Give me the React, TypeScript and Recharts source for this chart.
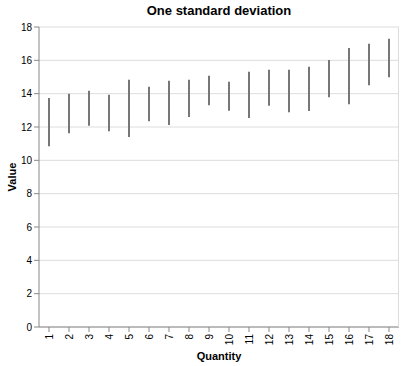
import { Bar, BarChart, CartesianGrid, XAxis, YAxis } from 'recharts';

const quantities = ['1', '2', '3', '4', '5', '6', '7', '8', '9', '10', '11', '12', '13', '14', '15', '16', '17', '18'];
const lowValues = [10.84, 11.62, 12.08, 11.74, 11.4, 12.34, 12.12, 12.6, 13.3, 12.98, 12.54, 13.28, 12.88, 12.96, 13.78, 13.36, 14.5, 14.98];
const highValues = [13.74, 14.0, 14.18, 13.94, 14.84, 14.42, 14.78, 14.84, 15.08, 14.72, 15.32, 15.44, 15.44, 15.62, 16.02, 16.74, 17.0, 17.3];
const yTicks = [0, 2, 4, 6, 8, 10, 12, 14, 16, 18];

const data = quantities.map((q, i) => ({ quantity: q, range: [lowValues[i], highValues[i]] }));

const font = 'Liberation Sans, Arial, Helvetica, sans-serif';

function XTick({ x, y, payload }: any) {
  return (
    <g transform={`translate(${x},${y})`}>
      <text transform="rotate(-90)" x={0} y={0} textAnchor="end" dominantBaseline="central" fontSize={10} fill="#000" fontFamily={font}>
        {payload.value}
      </text>
    </g>
  );
}

export default function App() {
  return (
    <div style={{ position: 'absolute', left: 0, top: 0, width: 404, height: 366, background: '#fff', fontFamily: font }}>
      <div style={{ position: 'absolute', left: 39, width: 360, top: 3, textAlign: 'center', fontSize: 13, fontWeight: 'bold' }}>
        One standard deviation
      </div>
      <BarChart width={404} height={366} data={data} margin={{ top: 27, right: 5, left: 0, bottom: 0 }} barCategoryGap={0}>
        <CartesianGrid vertical={false} stroke="#ddd" />
        <XAxis
          dataKey="quantity"
          height={39}
          interval={0}
          tickSize={5}
          tickMargin={2}
          tick={<XTick />}
          stroke="#888"
          tickLine={{ stroke: '#888' }}
          label={{ value: 'Quantity', position: 'insideBottom', offset: 6, fontSize: 11, fontWeight: 'bold', fill: '#000', fontFamily: font }}
        />
        <YAxis
          domain={[0, 18]}
          ticks={yTicks}
          width={39}
          tickSize={5}
          tickMargin={2}
          stroke="#888"
          tick={{ fontSize: 10, fill: '#000', fontFamily: font }}
          label={{ value: 'Value', angle: -90, position: 'insideLeft', offset: 12, fontSize: 11, fontWeight: 'bold', fill: '#000', fontFamily: font, style: { textAnchor: 'middle' } }}
        />
        <Bar dataKey="range" fill="#777" barSize={2} isAnimationActive={false} />
      </BarChart>
      <div style={{ position: 'absolute', left: 398, top: 27, width: 1, height: 300, background: '#ddd' }} />
    </div>
  );
}
